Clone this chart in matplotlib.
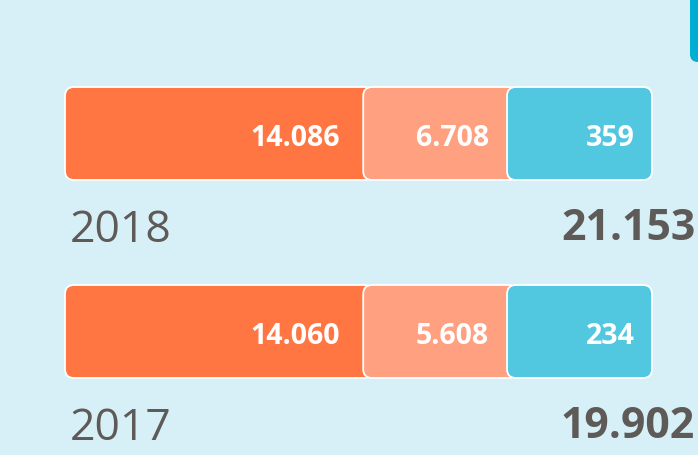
import matplotlib.pyplot as plt
from matplotlib.patches import FancyBboxPatch

# Data
years = ["2018", "2017"]
seg_a = [14086, 14060]
seg_b = [6708, 5608]
seg_c = [359, 234]
totals = [21153, 19902]

colors = ["#FF7643", "#FFA081", "#52C7E0"]
bg = "#D7F0F7"
text_gray = "#5E5A57"


def fmt(v):
    return f"{v:,}".replace(",", ".")


plt.rcParams["font.family"] = ["Open Sans", "DejaVu Sans"]

fig = plt.figure(figsize=(6.98, 4.55), dpi=100)
fig.patch.set_facecolor(bg)
ax = fig.add_axes([0, 0, 1, 1])
ax.set_xlim(0, 698)
ax.set_ylim(455, 0)
ax.axis("off")

# layout (pixels): bar span and visible share of each segment
left, right = 65, 652
shares = [0.508, 0.245, 0.247]
label_pad = [23, 18, 17]
bar_h = 93
row_top = [87, 285]
radius = 9

# small tab in the top right corner
ax.add_patch(FancyBboxPatch((690, -20), 20, 82, boxstyle="round,pad=0,rounding_size=8",
                            fc="#00AED4", ec="none"))

span = right - left
for i, year in enumerate(years):
    top = row_top[i]
    vals = [seg_a[i], seg_b[i], seg_c[i]]
    x0 = left
    for k, v in enumerate(vals):
        w = span * shares[k]
        ext = radius + 2 if k < 2 else 0
        ax.add_patch(FancyBboxPatch((x0, top), w + ext, bar_h,
                                    boxstyle=f"round,pad=0,rounding_size={radius}",
                                    fc=colors[k], ec="white", lw=1.3, zorder=2 + k))
        ax.text(x0 + w - label_pad[k], top + 59, fmt(v), color="white", fontsize=20.5,
                fontweight="bold", ha="right", va="baseline", zorder=10)
        x0 += w
    ax.text(70, top + 155, year, color=text_gray, fontsize=32,
            ha="left", va="baseline")
    ax.text(561, top + 153, fmt(totals[i]), color=text_gray, fontsize=30.8,
            fontweight="bold", ha="left", va="baseline")

fig.savefig("out.png", dpi=100, facecolor=bg)
